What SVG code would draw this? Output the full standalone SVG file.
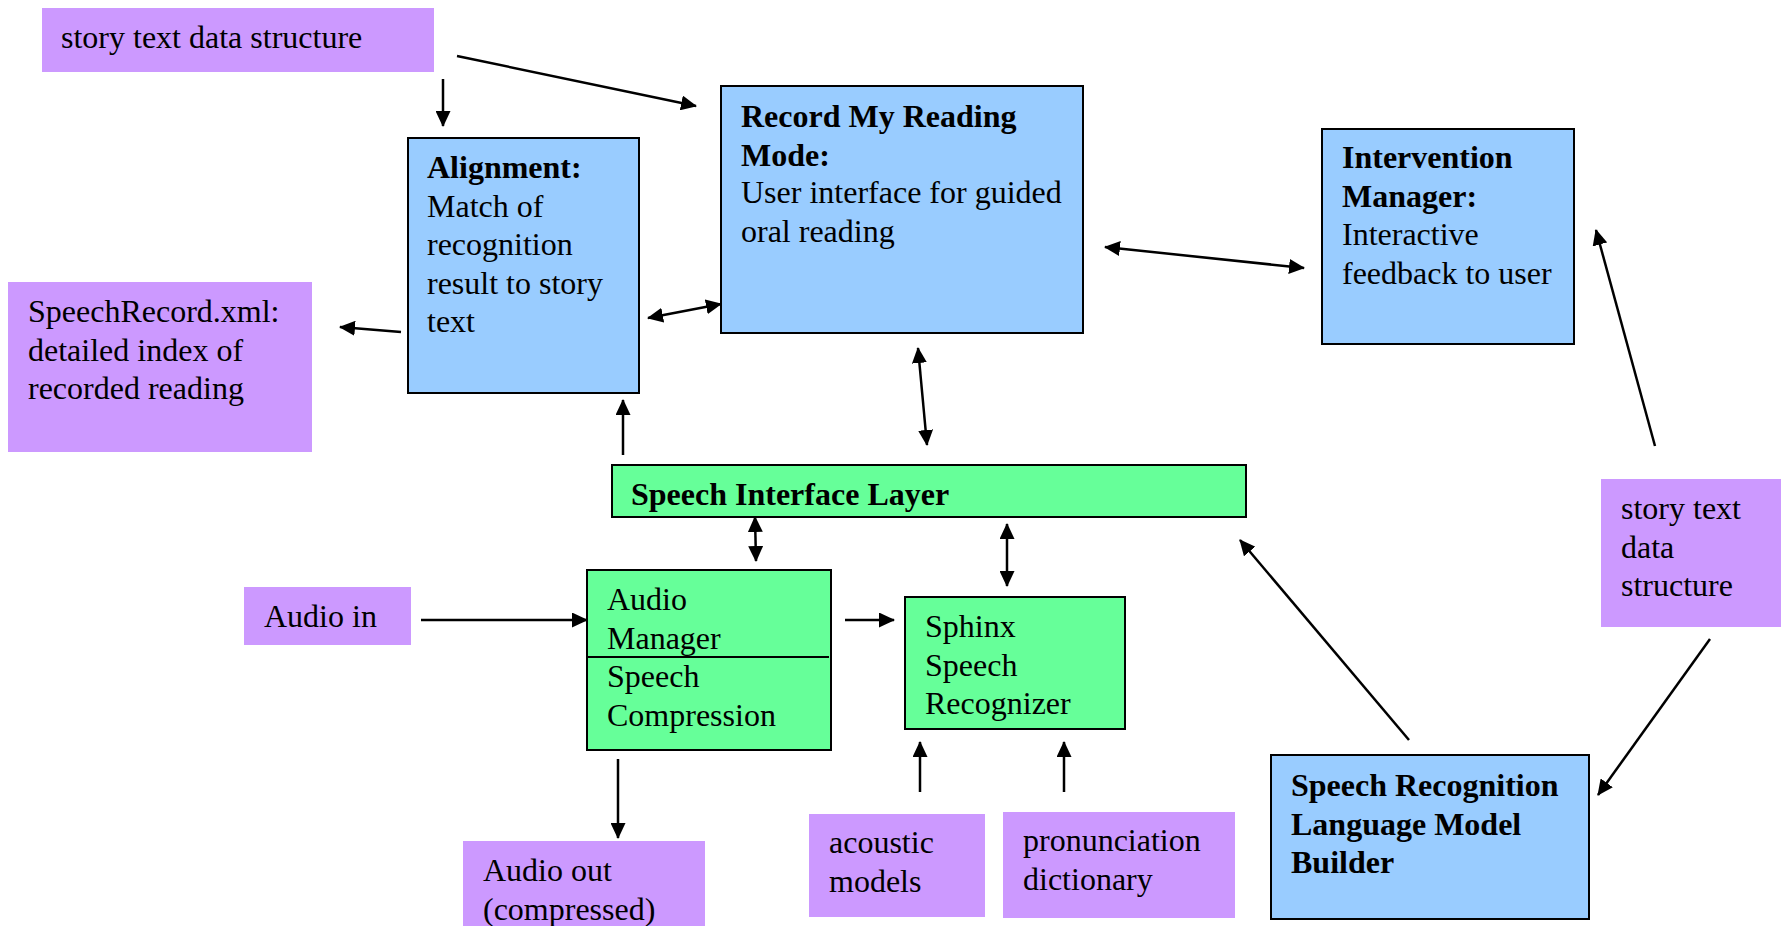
<svg xmlns="http://www.w3.org/2000/svg" width="1781" height="926" viewBox="0 0 1781 926">
<style>
.p{fill:#CC99FF;stroke:none}
.b{fill:#99CCFF;stroke:#000;stroke-width:2}
.g{fill:#66FF99;stroke:#000;stroke-width:2}
text{font-family:"Liberation Serif","Times New Roman",serif;font-size:32px;fill:#000}
.bd{font-weight:bold}
.c line{stroke:#000;stroke-width:2.5}
</style>
<defs>
<marker id="ah" markerUnits="userSpaceOnUse" markerWidth="16" markerHeight="15" refX="15" refY="7.5" orient="auto-start-reverse" viewBox="0 0 16 15">
<path d="M0,0 L16,7.5 L0,15 z" fill="#000"/>
</marker>
</defs>
<rect width="1781" height="926" fill="#fff"/>

<g id="story-top">
<rect class="p" x="42" y="8" width="392" height="64"/>
<text x="61" y="48">story text data structure</text>
</g>

<g id="alignment">
<rect class="b" x="408" y="138" width="231" height="255"/>
<text x="427" y="178"><tspan class="bd">Alignment:</tspan><tspan x="427" dy="38.5">Match of</tspan><tspan x="427" dy="38.5">recognition</tspan><tspan x="427" dy="38.5">result to story</tspan><tspan x="427" dy="38.5">text</tspan></text>
</g>

<g id="record">
<rect class="b" x="721" y="86" width="362" height="247"/>
<text x="741" y="127" class="bd">Record My Reading<tspan x="741" dy="38.5">Mode:</tspan></text>
<text x="741" y="203">User interface for guided<tspan x="741" dy="38.5">oral reading</tspan></text>
</g>

<g id="intervention">
<rect class="b" x="1322" y="129" width="252" height="215"/>
<text x="1342" y="168" class="bd">Intervention<tspan x="1342" dy="38.5">Manager:</tspan></text>
<text x="1342" y="245">Interactive<tspan x="1342" dy="38.5">feedback to user</tspan></text>
</g>

<g id="speechrecord">
<rect class="p" x="8" y="282" width="304" height="170"/>
<text x="28" y="322">SpeechRecord.xml:<tspan x="28" dy="38.5">detailed index of</tspan><tspan x="28" dy="38.5">recorded reading</tspan></text>
</g>

<g id="sil">
<rect class="g" x="612" y="465" width="634" height="52"/>
<text x="631" y="505" class="bd">Speech Interface Layer</text>
</g>

<g id="audio-in">
<rect class="p" x="244" y="587" width="167" height="58"/>
<text x="264" y="627">Audio in</text>
</g>

<g id="audio-manager">
<rect class="g" x="587" y="570" width="244" height="180"/>
<line x1="587" y1="657" x2="829" y2="657" stroke="#000" stroke-width="2"/>
<text x="607" y="610">Audio<tspan x="607" dy="38.5">Manager</tspan><tspan x="607" dy="38.5">Speech</tspan><tspan x="607" dy="38.5">Compression</tspan></text>
</g>

<g id="sphinx">
<rect class="g" x="905" y="597" width="220" height="132"/>
<text x="925" y="637">Sphinx<tspan x="925" dy="38.5">Speech</tspan><tspan x="925" dy="38.5">Recognizer</tspan></text>
</g>

<g id="audio-out">
<rect class="p" x="463" y="841" width="242" height="95"/>
<text x="483" y="881">Audio out<tspan x="483" dy="38.5">(compressed)</tspan></text>
</g>

<g id="acoustic">
<rect class="p" x="809" y="814" width="176" height="103"/>
<text x="829" y="853">acoustic<tspan x="829" dy="38.5">models</tspan></text>
</g>

<g id="pronunciation">
<rect class="p" x="1003" y="812" width="232" height="106"/>
<text x="1023" y="851">pronunciation<tspan x="1023" dy="38.5">dictionary</tspan></text>
</g>

<g id="lm-builder">
<rect class="b" x="1271" y="755" width="318" height="164"/>
<text x="1291" y="796" class="bd">Speech Recognition<tspan x="1291" dy="38.5">Language Model</tspan><tspan x="1291" dy="38.5">Builder</tspan></text>
</g>

<g id="story-right">
<rect class="p" x="1601" y="479" width="190" height="148"/>
<text x="1621" y="519">story text<tspan x="1621" dy="38.5">data</tspan><tspan x="1621" dy="38.5">structure</tspan></text>
</g>

<g id="connectors" class="c">
<line x1="443" y1="79" x2="443" y2="126" marker-end="url(#ah)"/>
<line x1="457" y1="56" x2="696" y2="106" marker-end="url(#ah)"/>
<line x1="401" y1="332" x2="340" y2="327" marker-end="url(#ah)"/>
<line x1="648" y1="318" x2="721" y2="304" marker-start="url(#ah)" marker-end="url(#ah)"/>
<line x1="623" y1="455" x2="623" y2="400" marker-end="url(#ah)"/>
<line x1="918" y1="348" x2="927" y2="445" marker-start="url(#ah)" marker-end="url(#ah)"/>
<line x1="1105" y1="247" x2="1304" y2="268" marker-start="url(#ah)" marker-end="url(#ah)"/>
<line x1="1655" y1="446" x2="1596" y2="230" marker-end="url(#ah)"/>
<line x1="1710" y1="639" x2="1598" y2="795" marker-end="url(#ah)"/>
<line x1="1409" y1="740" x2="1240" y2="540" marker-end="url(#ah)"/>
<line x1="755" y1="517" x2="756" y2="561" marker-start="url(#ah)" marker-end="url(#ah)"/>
<line x1="1007" y1="524" x2="1007" y2="586" marker-start="url(#ah)" marker-end="url(#ah)"/>
<line x1="421" y1="620" x2="587" y2="620" marker-end="url(#ah)"/>
<line x1="845" y1="620" x2="894" y2="620" marker-end="url(#ah)"/>
<line x1="618" y1="759" x2="618" y2="838" marker-end="url(#ah)"/>
<line x1="920" y1="792" x2="920" y2="742" marker-end="url(#ah)"/>
<line x1="1064" y1="792" x2="1064" y2="742" marker-end="url(#ah)"/>
</g>
</svg>
